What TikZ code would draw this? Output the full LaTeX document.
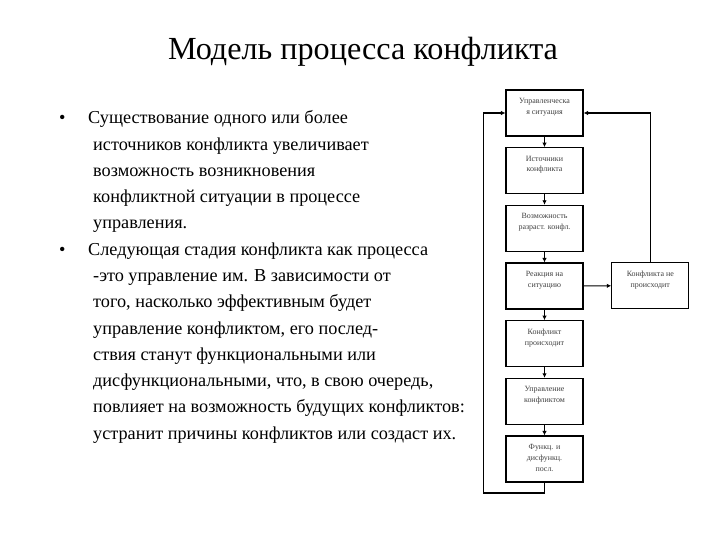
\documentclass[tikz,border=0pt]{standalone}
\usepackage{fontspec}
\setmainfont{Liberation Serif}
\usetikzlibrary{arrows.meta}
\tikzset{
  stage/.style={draw, line width=1.1bp, minimum width=77bp, minimum height=46bp, inner sep=0pt},
  stagetext/.style={anchor=north, yshift=-8.5bp, inner sep=0pt, align=center, text=black!75,
    font=\fontsize{8}{11}\selectfont},
  flow/.style={line width=1.1bp, -{Latex[length=4.5bp,width=4.5bp]}},
  bodyline/.style={anchor=base west, inner sep=0pt, font=\fontsize{18.3}{26}\selectfont},
}
\begin{document}
\begin{tikzpicture}[x=1bp,y=-1bp]
\useasboundingbox (0,0) rectangle (720,540);
\node[anchor=base, font=\fontsize{32.3}{36}\selectfont] (title) at (363,60) {Модель процесса конфликта};
% text on the left
\node[bodyline] (bul1) at (59,124) {\textbullet};
\node[bodyline] (bul2) at (59,255.25) {\textbullet};
\foreach \x/\txt [count=\i from 0] in {
  88/{Существование одного или более},
  93/{источников конфликта увеличивает},
  93/{возможность возникновения},
  93/{конфликтной ситуации в процессе},
  93/{управления.},
  88/{Следующая стадия конфликта как процесса},
  93/{-это управление им. В зависимости от},
  93/{того, насколько эффективным будет},
  93/{управление конфликтом, его послед-},
  93/{ствия станут функциональными или},
  93/{дисфункциональными, что, в свою очередь,},
  93/{повлияет на возможность будущих конфликтов:},
  93/{устранит причины конфликтов или создаст их.}}
\node[bodyline] (line\i) at (\x,124+26.25*\i) {\txt};
% chain of stages
\foreach \n/\txt [count=\i from 0] in {
  upr/{Управленческа\\я ситуация},
  ist/{Источники\\конфликта},
  voz/{Возможность\\разраст. конфл.},
  rea/{Реакция на\\ситуацию},
  kpr/{Конфликт\\происходит},
  ukf/{Управление\\конфликтом},
  fun/{Функц. и\\дисфункц.\\посл.}}
\node[stage, label={[stagetext]north:\txt}] (\n) at (544.5,113+57.67*\i) {};
\node[stage, label={[stagetext]north:{Конфликта не\\происходит}}] (nep) at (650.3,285.7) {};
\foreach \a/\b in {upr/ist,ist/voz,voz/rea,rea/kpr,kpr/ukf,ukf/fun}
\draw[flow] (\a) -- (\b);
\draw[flow] (rea) -- (nep);
\coordinate (loop) at (483.3,493);
\draw[flow] (fun.south) |- (loop) |- (upr.west);
\draw[flow] (nep.north) |- (upr.east);
\end{tikzpicture}
\end{document}
